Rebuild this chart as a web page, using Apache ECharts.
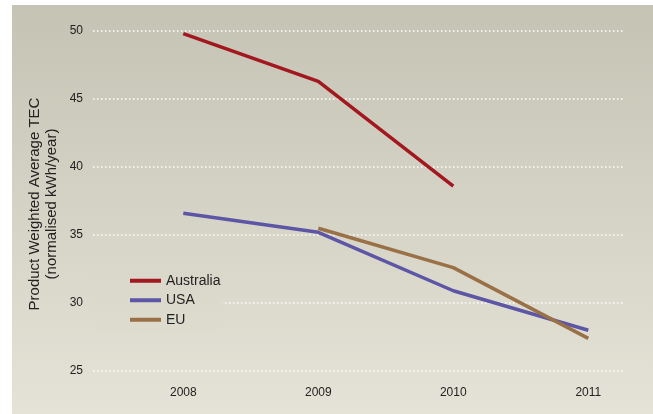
<!DOCTYPE html>
<html>
<head>
<meta charset="utf-8">
<script src="https://cdn.jsdelivr.net/npm/echarts@6/dist/echarts.min.js"></script>
<style>
  html, body { margin: 0; padding: 0; background: #fff; }
  #chart { width: 653px; height: 414px; }
</style>
</head>
<body>
<div id="chart"></div>
<script>
// data
const years = [2008, 2009, 2010, 2011]
const australia = [49.8, 46.3, 38.6, null]
const usa = [36.6, 35.2, 30.9, 28.0]
const eu = [null, 35.5, 32.6, 27.4]

const textColor = '#222'
const fontFamily = '"Liberation Sans", Arial, sans-serif'

// pair years with values, skipping missing years
const toPairs = vals => years.map((y, i) => [y, vals[i]]).filter(p => p[1] != null)

const chart = echarts.init(document.getElementById('chart'))

chart.setOption({
  animation: false,
  backgroundColor: '#fff',
  textStyle: { fontFamily: fontFamily },
  graphic: [
    {
      type: 'rect',
      z: -10,
      shape: { x: 12, y: 5, width: 641, height: 409 },
      style: {
        fill: new echarts.graphic.LinearGradient(0, 0, 0, 1, [
          { offset: 0, color: '#c4c3b4' },
          { offset: 1, color: '#e5e3d7' }
        ])
      }
    },
    {
      type: 'text',
      x: 43,
      y: 204,
      rotation: Math.PI / 2,
      style: {
        text: 'Product Weighted Average TEC\n(normalised kWh/year)',
        fill: textColor,
        font: '15px ' + fontFamily,
        lineHeight: 17,
        textAlign: 'center',
        textVerticalAlign: 'middle'
      }
    }
  ],
  grid: { left: 93, right: 28, top: 31, bottom: 43 },
  legend: {
    orient: 'vertical',
    left: 93,
    top: 270,
    padding: [3, 2, 3, 37],
    // same gradient as the panel, so it only hides the grid line under it
    backgroundColor: new echarts.graphic.LinearGradient(0, 0, 0, 1, [
      { offset: 0, color: '#d9d7c9' },
      { offset: 1, color: '#dedccf' }
    ]),
    icon: 'rect',
    itemWidth: 31,
    itemHeight: 4,
    itemGap: 4,
    textStyle: { color: textColor, fontSize: 14, lineHeight: 15.5 },
    data: ['Australia', 'USA', 'EU']
  },
  xAxis: {
    type: 'value',
    min: 2007.331,
    max: 2011.272,
    axisLine: { show: false },
    axisTick: { show: false },
    splitLine: { show: false },
    axisLabel: {
      customValues: years,
      color: textColor,
      fontSize: 12,
      margin: 16,
      formatter: v => String(v)
    }
  },
  yAxis: {
    type: 'value',
    min: 25,
    max: 50,
    interval: 5,
    axisLine: { show: false },
    axisTick: { show: false },
    axisLabel: { color: textColor, fontSize: 12, margin: 10 },
    splitLine: { lineStyle: { color: '#ffffff', width: 1.5, type: [1.5, 2.5] } }
  },
  series: [
    {
      name: 'Australia',
      type: 'line',
      data: toPairs(australia),
      symbol: 'none',
      itemStyle: { color: '#a3171f' },
      lineStyle: { width: 3.5, color: '#a3171f' }
    },
    {
      name: 'USA',
      type: 'line',
      data: toPairs(usa),
      symbol: 'none',
      itemStyle: { color: '#5d55a5' },
      lineStyle: { width: 3.5, color: '#5d55a5' }
    },
    {
      name: 'EU',
      type: 'line',
      data: toPairs(eu),
      symbol: 'none',
      itemStyle: { color: '#9a7046' },
      lineStyle: { width: 3.5, color: '#9a7046' }
    }
  ]
})
</script>
</body>
</html>
